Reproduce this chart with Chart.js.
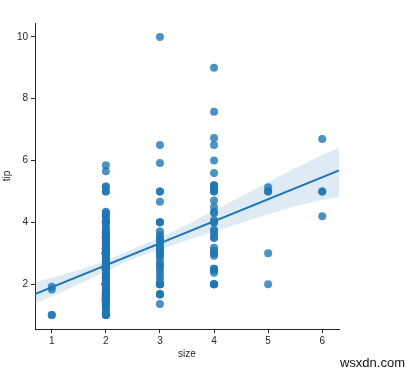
<!DOCTYPE html>
<html>
<head>
<meta charset="utf-8">
<script src="https://cdn.jsdelivr.net/npm/chart.js@4"></script>
<style>
  body { margin: 0; background: #fff; }
  #wrap { position: relative; width: 416px; height: 373px; }
  #mark { position: absolute; right: 11px; top: 355px; font: 13px "Liberation Sans", Arial, sans-serif; color: #111; }
</style>
</head>
<body>
<div id="wrap">
  <canvas id="chart" width="416" height="373"></canvas>
  <div id="mark">wsxdn.com</div>
</div>
<script>
// tips dataset, tip vs. party size
const size1 = [1.0, 1.83, 1.0, 1.92];
const size2 = [
  1.0, 1.0, 1.0, 1.01, 1.1, 1.17, 1.25, 1.25, 1.32, 1.36, 1.44, 1.45,
  1.47, 1.48, 1.5, 1.5, 1.5, 1.5, 1.5, 1.56, 1.57, 1.58, 1.61, 1.63,
  1.64, 1.67, 1.71, 1.72, 1.73, 1.75, 1.76, 1.8, 1.83, 1.92, 1.96, 1.98,
  2.0, 2.0, 2.0, 2.0, 2.0, 2.0, 2.0, 2.0, 2.0, 2.0, 2.01, 2.02,
  2.03, 2.05, 2.09, 2.12, 2.18, 2.2, 2.2, 2.23, 2.24, 2.31, 2.34, 2.45,
  2.47, 2.5, 2.5, 2.5, 2.5, 2.5, 2.5, 2.52, 2.54, 2.55, 2.56, 2.6,
  2.61, 2.64, 2.71, 2.72, 2.74, 2.75, 2.83, 2.88, 2.92, 3.0, 3.0, 3.0,
  3.0, 3.0, 3.0, 3.0, 3.0, 3.0, 3.0, 3.0, 3.02, 3.06, 3.08, 3.12,
  3.14, 3.15, 3.16, 3.18, 3.23, 3.27, 3.35, 3.39, 3.4, 3.48, 3.5, 3.5,
  3.5, 3.5, 3.51, 3.55, 3.6, 3.61, 3.68, 3.71, 3.76, 3.82, 3.92, 4.0,
  4.0, 4.0, 4.0, 4.06, 4.19, 4.2, 4.29, 4.3, 4.34, 5.0, 5.0, 5.15,
  5.16, 5.65, 5.85, 1.5, 2.0, 2.0, 2.0, 2.5, 2.5, 3.0, 2.0, 2.0,
  1.66, 1.68, 2.0, 2.21, 2.3, 2.6, 2.86, 3.0, 3.25, 3.0, 2.0, 2.5
];
const size3 = [
  10.0, 6.5, 5.92, 5.0, 5.0, 4.67, 4.0, 4.0, 4.0, 3.71, 3.6, 3.5, 3.48,
  3.41, 3.31, 3.25, 3.18, 3.11, 3.07, 3.0, 3.0, 2.92, 2.88, 2.75, 2.64,
  2.56, 2.47, 2.34, 2.23, 2.1, 2.0, 2.0, 2.0, 2.0, 1.68, 1.68, 1.66, 1.36
];
const size4 = [
  9.0, 7.58, 6.73, 6.5, 6.0, 5.6, 5.2, 5.2, 5.15, 5.07, 5.0, 5.0, 4.71,
  4.5, 4.34, 4.3, 4.08, 4.0, 4.0, 3.76, 3.71, 3.61, 3.5, 3.5, 3.18, 3.09,
  3.0, 3.0, 2.92, 2.5, 2.5, 2.45, 2.37, 2.0, 2.0, 2.0, 2.0
];
const size5 = [5.0, 2.0, 3.0, 5.14, 5.0];
const size6 = [6.7, 5.0, 4.2, 5.0];

// fitted line and 95% band
const lineX = [0.69, 6.31];
const lineY = [1.68, 5.68];
const bandX = [0.69, 1, 1.5, 2, 2.5, 3, 3.5, 4, 4.5, 5, 5.5, 6, 6.31];
const bandHigh = [2.08, 2.2, 2.46, 2.76, 3.14, 3.5, 3.92, 4.38, 4.84, 5.3, 5.76, 6.18, 6.42];
const bandLow = [1.38, 1.6, 2.0, 2.42, 2.82, 3.12, 3.42, 3.7, 3.98, 4.26, 4.52, 4.72, 4.82];

const xTicks = [1, 2, 3, 4, 5, 6];
const yTicks = [2, 4, 6, 8, 10];

const blue = "#1f77b4";
const ink = "#262626";
const font = { family: "'Liberation Sans', Arial, sans-serif", size: 10 };

const points = [];
[size1, size2, size3, size4, size5, size6].forEach((tips, i) => {
  tips.forEach((t) => points.push({ x: i + 1, y: t }));
});
const toXY = (xs, ys) => xs.map((x, i) => ({ x: x, y: ys[i] }));

new Chart(document.getElementById("chart"), {
  type: "scatter",
  data: {
    datasets: [
      {
        data: points,
        backgroundColor: "rgba(31,119,180,0.8)",
        borderWidth: 0,
        pointRadius: 4,
        order: 3,
      },
      {
        data: toXY(bandX, bandHigh),
        showLine: true,
        pointRadius: 0,
        borderWidth: 0,
        borderColor: "rgba(0,0,0,0)",
        backgroundColor: "rgba(31,119,180,0.15)",
        fill: "+1",
        order: 2,
      },
      {
        data: toXY(bandX, bandLow),
        showLine: true,
        pointRadius: 0,
        borderWidth: 0,
        borderColor: "rgba(0,0,0,0)",
        fill: false,
        order: 2,
      },
      {
        data: toXY(lineX, lineY),
        showLine: true,
        pointRadius: 0,
        borderColor: blue,
        borderWidth: 2,
        fill: false,
        order: 1,
      },
    ],
  },
  options: {
    responsive: false,
    animation: false,
    events: [],
    layout: { padding: { top: 23, right: 77, left: 0, bottom: 0 } },
    plugins: { legend: { display: false }, tooltip: { enabled: false } },
    scales: {
      x: {
        type: "linear",
        min: 0.69,
        max: 6.31,
        afterBuildTicks: (s) => { s.ticks = xTicks.map((v) => ({ value: v })); },
        afterFit: (s) => { s.height = 44; },
        ticks: { color: ink, font: font, padding: 2, maxRotation: 0 },
        grid: { display: true, drawOnChartArea: false, drawTicks: true, tickLength: 4, color: ink },
        border: { display: true, color: ink, width: 1 },
        title: { display: true, text: "size", color: ink, font: font, padding: { top: 0, bottom: 13 } },
      },
      y: {
        type: "linear",
        min: 0.55,
        max: 10.45,
        afterBuildTicks: (s) => { s.ticks = yTicks.map((v) => ({ value: v })); },
        afterFit: (s) => { s.width = 35; },
        ticks: { color: ink, font: font, padding: 3 },
        grid: { display: true, drawOnChartArea: false, drawTicks: true, tickLength: 4, color: ink },
        border: { display: true, color: ink, width: 1 },
        title: { display: true, text: "tip", color: ink, font: font, padding: { top: 1, bottom: 0 } },
      },
    },
  },
});
</script>
</body>
</html>
